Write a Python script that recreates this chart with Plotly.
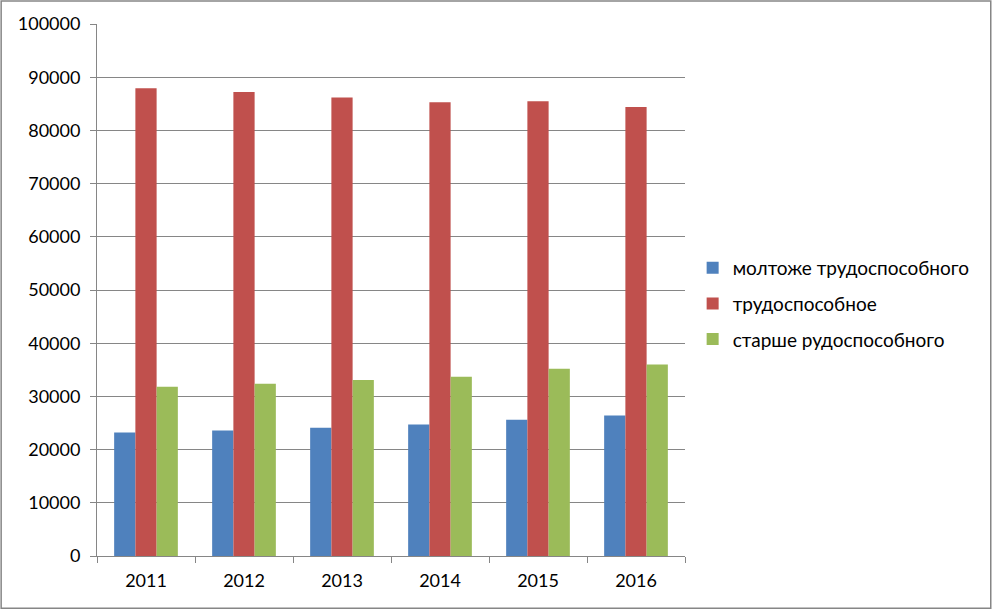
import plotly.graph_objects as go

years = ["2011", "2012", "2013", "2014", "2015", "2016"]
younger = [23200, 23600, 24100, 24700, 25600, 26400]
working = [87900, 87200, 86200, 85300, 85500, 84400]
older = [31800, 32400, 33100, 33700, 35200, 36000]

names = ["молтоже трудоспособного", "трудоспособное", "старше рудоспособного"]
colors = ["#4F81BD", "#C0504D", "#9BBB59"]

fig = go.Figure()
for i, (vals, name, col) in enumerate(zip([younger, working, older], names, colors)):
  fig.add_trace(go.Bar(x=years, y=vals, name=name, marker_color=col,
                       marker_line_width=0, legendgroup=str(i)))

fig.update_layout(width=993,
                  height=610,
                  barmode="group",
                  bargap=0.35,
                  bargroupgap=0,
                  margin=dict(l=97, r=308, t=24, b=54),
                  paper_bgcolor="white",
                  plot_bgcolor="white",
                  font=dict(family="Lato, Liberation Sans, sans-serif", size=18, color="black"),
                  legend=dict(x=1.013, y=0.474, xanchor="left", yanchor="middle",
                              tracegroupgap=8, font=dict(size=19)),
                  shapes=[dict(type="rect", xref="paper", yref="paper",
                               x0=-0.163, x1=1.52, y0=-0.098, y1=1.043,
                               line=dict(color="#868686", width=1.5))])
fig.update_yaxes(range=[0, 100000], dtick=10000, tickformat="d", showgrid=True,
                 gridcolor="#868686", gridwidth=1, showline=True, linecolor="#868686",
                 ticks="outside", ticklen=6, tickcolor="#868686", zeroline=False,
                 ticklabelstandoff=6)
fig.update_xaxes(showline=True, linecolor="#868686", ticks="outside", ticklen=6,
                 tickcolor="#868686", tickson="boundaries", ticklabelstandoff=8)
fig.write_html("out.html", config={"displayModeBar": False},
               post_script="document.body.style.margin='0';")
